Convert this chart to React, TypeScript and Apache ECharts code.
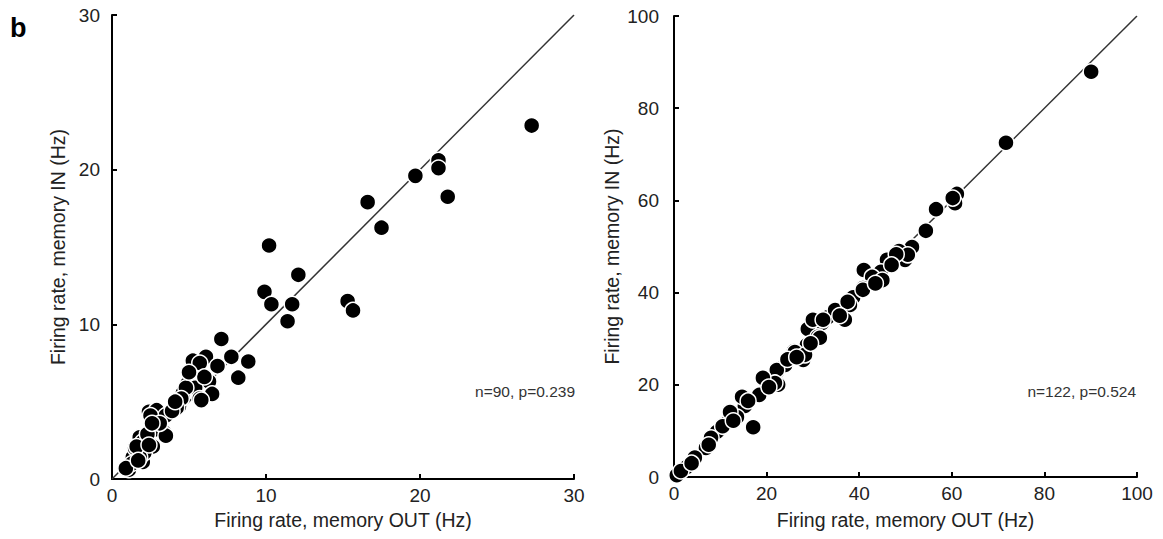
import React, { useEffect, useRef } from "react";
import * as echarts from "echarts";

// Left panel: [memory OUT, memory IN] firing rates (Hz)
const leftPoints: number[][] = [
  [27.25, 22.85], [19.7, 19.6], [21.2, 20.6], [21.2, 20.1], [21.8, 18.25],
  [16.6, 17.9], [17.5, 16.25], [10.2, 15.1], [12.1, 13.2], [9.9, 12.1],
  [10.35, 11.3], [11.7, 11.3], [11.4, 10.2], [15.3, 11.5], [15.65, 10.9],
  [7.1, 9.05], [6.1, 7.9], [5.25, 7.65], [5.7, 7.5], [6.85, 7.3],
  [7.75, 7.9], [8.85, 7.6], [8.2, 6.55], [6.3, 6.3], [4.9, 6.15],
  [5.4, 5.9], [6.5, 5.5], [5.7, 5.2], [4.6, 5.55], [4.35, 4.7],
  [2.4, 4.35], [2.9, 4.45], [3.6, 4.15], [2.9, 3.3], [3.4, 3.0],
  [1.8, 2.7], [2.65, 2.1], [2.0, 1.7], [1.35, 1.4], [2.0, 1.1],
  [1.1, 0.6], [1.5, 2.0], [4.8, 5.9], [4.5, 5.2], [4.2, 4.6],
  [3.5, 4.1], [2.5, 4.1], [2.8, 3.2], [2.0, 2.4], [2.1, 1.7],
  [1.8, 1.4], [3.5, 2.8], [1.6, 2.1], [5.8, 5.1], [6.0, 6.6],
  [5.0, 6.9], [3.1, 3.6], [2.3, 2.9], [1.3, 1.0], [0.9, 0.7],
  [3.9, 4.4], [4.1, 5.0], [2.6, 3.6], [1.7, 1.2], [2.4, 2.2],
];

// Right panel: [memory OUT, memory IN] firing rates (Hz)
const rightPoints: number[][] = [
  [90.1, 87.9], [71.7, 72.5], [61.1, 61.4], [60.7, 59.4], [56.6, 58.1],
  [54.4, 53.4], [51.4, 49.9], [48.6, 49.0], [49.9, 47.1], [46.0, 47.1],
  [44.7, 44.5], [41.0, 44.9], [42.8, 43.4], [40.8, 41.0], [38.7, 39.0],
  [38.0, 37.3], [35.2, 35.8], [36.9, 34.1], [32.0, 33.4], [28.9, 32.1],
  [31.1, 30.4], [28.7, 28.6], [25.9, 27.3], [27.9, 25.4], [22.2, 22.8],
  [22.5, 20.0], [19.9, 20.6], [18.4, 17.8], [15.3, 15.4], [13.6, 13.0],
  [17.1, 10.8], [9.3, 9.8], [6.9, 6.3], [2.8, 2.2], [0.6, 0.4],
  [11.4, 11.7], [14.7, 17.4], [24.0, 24.3], [33.3, 34.7], [30.0, 34.1],
  [50.5, 48.2], [48.0, 48.3], [45.0, 42.7], [40.8, 40.6], [34.8, 36.2],
  [32.2, 34.1], [31.5, 30.2], [26.1, 27.1], [28.3, 26.5], [22.2, 23.2],
  [21.8, 20.4], [19.2, 21.5], [12.1, 14.1], [60.2, 60.5], [47.0, 46.0],
  [43.5, 42.0], [37.5, 38.0], [29.5, 29.0], [24.5, 25.5], [20.5, 19.5],
  [16.0, 16.5], [10.5, 11.0], [8.0, 8.5], [4.5, 4.2], [1.5, 1.3],
  [26.5, 26.0], [35.8, 35.0], [12.8, 12.2], [7.5, 7.0], [3.8, 3.0],
];

const leftTicks = [0, 10, 20, 30];
const rightTicks = [0, 20, 40, 60, 80, 100];
const leftDiagonal: number[][] = [[0, 0], [30, 30]];
const rightDiagonal: number[][] = [[0, 0], [100, 100]];
const xTitle = "Firing rate, memory OUT (Hz)";
const yTitle = "Firing rate, memory IN (Hz)";
const leftNote = "n=90, p=0.239";
const rightNote = "n=122, p=0.524";
const panelLabel = "b";

const FONT = "Liberation Sans, Arial, Helvetica, sans-serif";

function axisCommon(max: number, interval: number) {
  return {
    type: "value" as const,
    min: 0,
    max,
    interval,
    splitLine: { show: false },
    axisLine: { show: true, onZero: false, lineStyle: { color: "#000", width: 2 } },
    axisTick: { show: true, inside: true, length: 5, lineStyle: { color: "#000", width: 2 } },
    nameLocation: "middle" as const,
    nameTextStyle: { fontFamily: FONT, fontSize: 19.5, color: "#222" },
  };
}

export default function App() {
  const ref = useRef<HTMLDivElement>(null);
  useEffect(() => {
    if (!ref.current) return;
    const chart = echarts.init(ref.current, undefined, { renderer: "svg" });
    const scatterStyle = {
      type: "scatter" as const,
      symbol: "circle",
      symbolSize: 16,
      itemStyle: { color: "#000", borderColor: "#fff", borderWidth: 1.5, opacity: 1 },
      z: 3,
    };
    const lineStyle = {
      type: "line" as const,
      symbol: "none",
      lineStyle: { color: "#333", width: 1.5 },
      z: 2,
    };
    const tickFont = { fontFamily: FONT, fontSize: 19, color: "#222" };
    chart.setOption({
      animation: false,
      backgroundColor: "#fff",
      grid: [
        { left: 112, top: 15, width: 462, height: 464 },
        { left: 674, top: 16, width: 463, height: 461 },
      ],
      xAxis: [
        {
          ...axisCommon(30, 10),
          gridIndex: 0,
          name: xTitle,
          nameGap: 31,
          axisLabel: { ...tickFont, margin: 7, formatter: (v: number) => (leftTicks.includes(v) ? String(v) : "") },
        },
        {
          ...axisCommon(100, 20),
          gridIndex: 1,
          name: xTitle,
          nameGap: 33,
          axisLabel: { ...tickFont, margin: 7, formatter: (v: number) => (rightTicks.includes(v) ? String(v) : "") },
        },
      ],
      yAxis: [
        {
          ...axisCommon(30, 10),
          gridIndex: 0,
          name: yTitle,
          nameGap: 44,
          axisLabel: { ...tickFont, margin: 12 },
        },
        {
          ...axisCommon(100, 20),
          gridIndex: 1,
          name: yTitle,
          nameGap: 52,
          axisLabel: { ...tickFont, margin: 15 },
        },
      ],
      series: [
        { ...lineStyle, xAxisIndex: 0, yAxisIndex: 0, data: leftDiagonal },
        { ...scatterStyle, xAxisIndex: 0, yAxisIndex: 0, data: leftPoints },
        { ...lineStyle, xAxisIndex: 1, yAxisIndex: 1, data: rightDiagonal },
        { ...scatterStyle, xAxisIndex: 1, yAxisIndex: 1, data: rightPoints },
      ],
      graphic: [
        {
          type: "text",
          left: 10,
          top: 14,
          style: { text: panelLabel, fontFamily: FONT, fontSize: 27, fontWeight: "bold", fill: "#000" },
        },
        {
          type: "text",
          right: 588,
          top: 383,
          style: { text: leftNote, fontFamily: FONT, fontSize: 15.5, fill: "#333" },
        },
        {
          type: "text",
          right: 27,
          top: 383,
          style: { text: rightNote, fontFamily: FONT, fontSize: 15.5, fill: "#333" },
        },
      ],
    });
    return () => chart.dispose();
  }, []);
  return <div ref={ref} style={{ position: "fixed", left: 0, top: 0, width: 1163, height: 539 }} />;
}
